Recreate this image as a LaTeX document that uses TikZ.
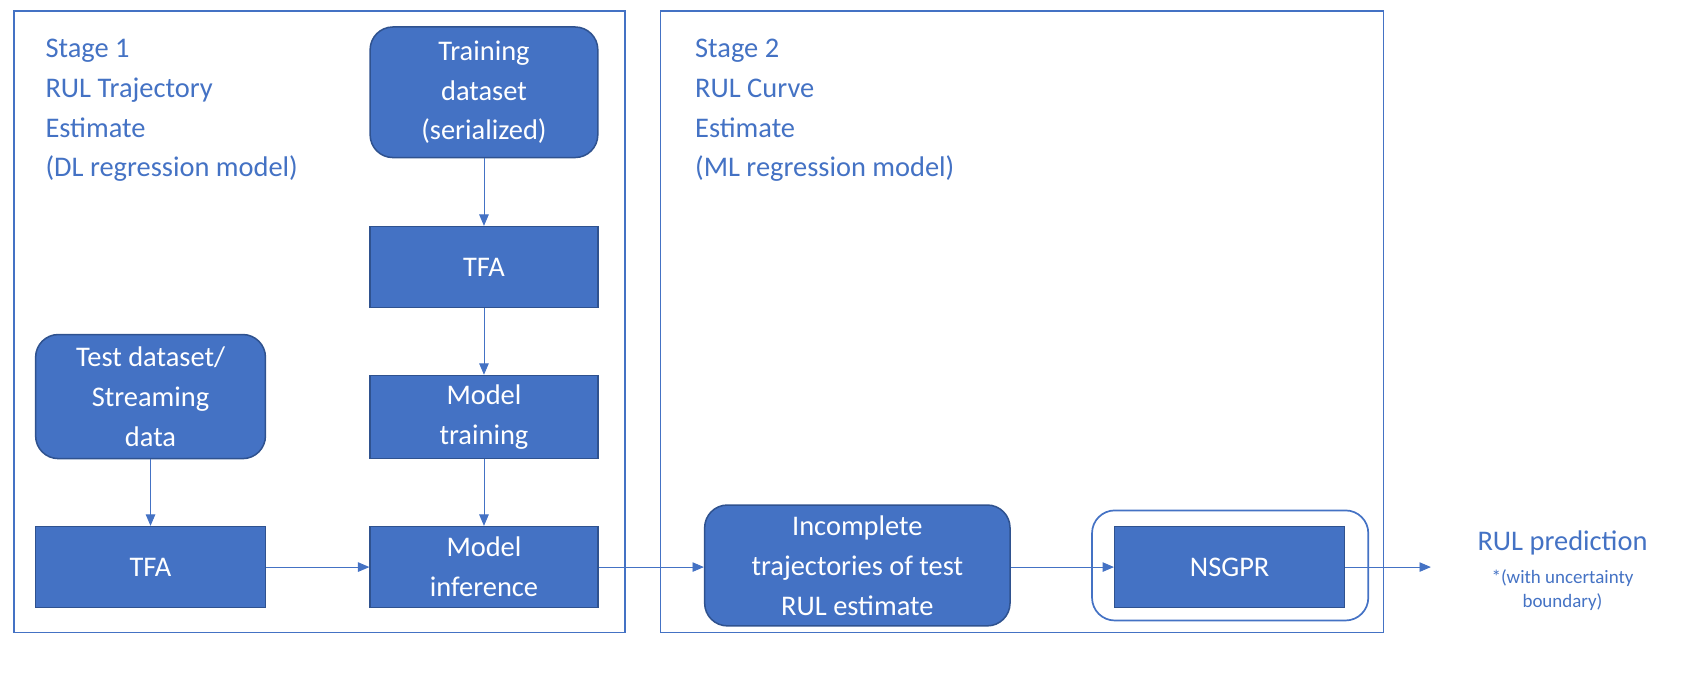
\documentclass[tikz,border=0pt]{standalone}
\usepackage{fontspec}
\setmainfont{Carlito}
\usepackage{tikz}
\usetikzlibrary{arrows.meta}
\definecolor{boxblue}{HTML}{4472C4}
\definecolor{edgeblue}{HTML}{2F528F}

\tikzset{
    block/.style={draw=edgeblue, fill=boxblue, text=white, line width=0.8pt, align=center, font=\fontsize{15}{21}\selectfont, inner sep=0pt},
    rblock/.style={block, rounded corners=12pt},
    stage/.style={draw=boxblue, line width=0.9pt},
    stagetext/.style={text=boxblue, align=left, anchor=north west, font=\fontsize{15}{21}\selectfont},
    flow/.style={draw=boxblue, line width=0.5pt, -{Triangle[length=6pt,width=5pt]}}
}

\begin{document}
\begin{tikzpicture}[x=0.02cm, y=-0.02cm]
    \useasboundingbox (0,0) rectangle (1568,630);

    % Stage frames
    \draw[stage] (13,10) rectangle (579,586);
    \draw[stage] (612,10) rectangle (1282,586);
    \node[stagetext] (s1) at (36,30) {Stage 1\\RUL Trajectory\\Estimate\\(DL regression model)};
    \node[stagetext] (s2) at (638,30) {Stage 2\\RUL Curve\\Estimate\\(ML regression model)};

    % Stage 1 blocks
    \node[rblock, minimum width=211*0.02cm, minimum height=121*0.02cm] (train) at (448.5,85.5) {Training\\dataset\\(serialized)};
    \node[block, minimum width=211*0.02cm, minimum height=75*0.02cm] (tfa1) at (448.5,247.5) {TFA};
    \node[block, minimum width=211*0.02cm, minimum height=77*0.02cm] (mtrain) at (448.5,386.5) {Model\\training};
    \node[rblock, minimum width=213*0.02cm, minimum height=115*0.02cm] (test) at (139.5,367.5) {Test dataset/\\Streaming\\data};
    \node[block, minimum width=213*0.02cm, minimum height=75*0.02cm] (tfa2) at (139.5,525.5) {TFA};
    \node[block, minimum width=211*0.02cm, minimum height=75*0.02cm] (minf) at (448.5,525.5) {Model\\inference};

    % Stage 2 blocks
    \node[rblock, minimum width=283*0.02cm, minimum height=112*0.02cm] (incomp) at (794.5,524) {Incomplete\\trajectories of test\\RUL estimate};
    \node[draw=boxblue, line width=0.9pt, rounded corners=12pt, minimum width=256*0.02cm, minimum height=102*0.02cm] (frame) at (1140,524) {};
    \node[block, minimum width=213*0.02cm, minimum height=75*0.02cm] (nsgpr) at (1139.5,525.5) {NSGPR};

    % Output
    \coordinate (out) at (1326,525.5);
    \node[text=boxblue, align=center, font=\fontsize{15}{21}\selectfont] (rul) at (1448,503) {RUL prediction};
    \node[text=boxblue, align=center, font=\fontsize{10}{13}\selectfont] (unc) at (1448,547) {*(with uncertainty\\boundary)};

    % Connectors
    \draw[flow] (train) -- (tfa1);
    \draw[flow] (tfa1) -- (mtrain);
    \draw[flow] (mtrain) -- (minf);
    \draw[flow] (test) -- (tfa2);
    \draw[flow] (tfa2) -- (minf);
    \draw[flow] (minf) -- (incomp.west |- minf);
    \draw[flow] (incomp.east |- nsgpr) -- (nsgpr);
    \draw[flow] (nsgpr) -- (out);
\end{tikzpicture}
\end{document}
